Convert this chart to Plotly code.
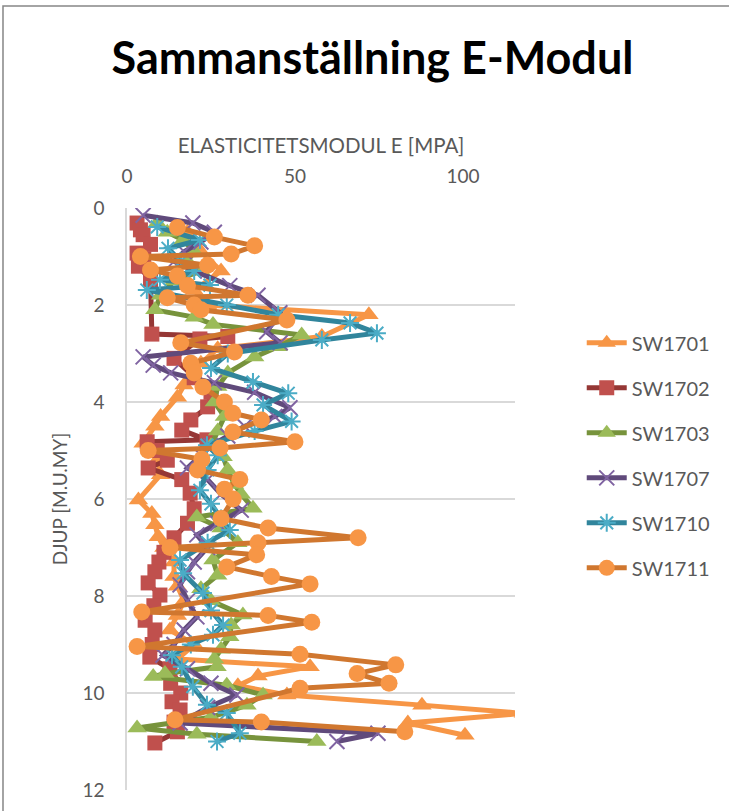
import plotly.graph_objects as go

# ---- data (depth in m, E-modul in MPa) ----
sw1701_d = [0.5, 0.9, 1.3, 1.7, 2.0, 2.2, 2.65, 2.9, 3.2, 3.65, 3.9, 4.3, 4.5, 4.85, 5.2, 5.5, 6.02, 6.3, 6.53, 6.78, 7.0, 7.3, 7.6, 7.8, 8.1, 8.4, 8.7, 9.0, 9.3, 9.46, 9.65, 9.85, 10.04, 10.25, 10.42, 10.62, 10.87]
sw1701_e = [18, 22, 28, 20, 24, 72, 58, 27, 22, 17, 15, 10, 8.3, 4.8, 9, 10, 3.4, 7.4, 8.3, 9.3, 11, 14, 14, 15, 17, 15, 12.8, 20, 15, 54.5, 39, 33, 47.6, 87.8, 118, 83.6, 100.6]

sw1702_d = [0.31, 0.45, 0.55, 0.75, 0.93, 1.05, 1.2, 1.48, 2.6, 2.65, 2.7, 3.1, 3.5, 3.8, 4.1, 4.37, 4.58, 4.78, 4.82, 5.0, 5.2, 5.36, 5.6, 5.88, 6.2, 6.5, 6.8, 7.1, 7.3, 7.5, 7.73, 7.98, 8.2, 8.5, 8.7, 9.0, 9.26, 9.5, 9.8, 10.0, 10.18, 10.35, 10.6, 10.8, 11.03]
sw1702_e = [3, 4, 4.8, 7, 3, 5, 3.4, 7, 7.4, 30, 21.7, 14, 20, 25, 24, 19, 16.3, 23.8, 6, 9, 12, 6.3, 16.3, 18.8, 20, 18, 14, 11, 9.5, 8.3, 6.3, 9.8, 8, 5.4, 8.3, 7.5, 6.8, 12.8, 13, 16, 13.4, 15.8, 14, 15, 8.3]

sw1703_d = [0.31, 0.5, 0.66, 0.9, 1.1, 1.3, 1.5, 1.8, 2.1, 2.25, 2.4, 2.62, 2.86, 3.07, 3.4, 3.68, 4.0, 4.3, 4.6, 4.9, 5.13, 5.4, 5.7, 5.9, 6.19, 6.37, 6.6, 6.9, 7.26, 7.57, 7.85, 8.1, 8.39, 8.6, 8.84, 9.1, 9.3, 9.46, 9.6, 9.66, 9.84, 10.04, 10.25, 10.5, 10.72, 10.85, 11.0]
sw1703_e = [9, 12, 16.7, 20, 18, 22, 14, 10, 8.3, 20, 25.6, 52, 45, 38, 30, 27, 26, 29, 27, 25, 28.6, 30, 32, 34, 37.5, 20.8, 28, 33, 25.6, 27, 22, 25, 34.5, 31, 30.6, 28, 26, 26.8, 11.3, 7.8, 29.7, 40.5, 35.7, 25, 3, 20.8, 56.5]

sw1707_d = [0.15, 0.31, 0.5, 0.7, 0.9, 1.1, 1.3, 1.6, 1.8, 2.16, 2.55, 2.78, 3.07, 3.24, 3.4, 3.6, 3.8, 4.12, 4.3, 4.5, 4.7, 4.9, 5.1, 5.36, 5.6, 5.9, 6.23, 6.5, 6.74, 7.0, 7.3, 7.5, 7.77, 8.1, 8.43, 8.7, 9.0, 9.22, 9.5, 9.8, 10.04, 10.3, 10.62, 10.83, 11.0]
sw1707_e = [4.8, 19.6, 26, 22, 17, 14, 20, 30.6, 39, 45.5, 41.6, 45.6, 4.8, 7.8, 13, 26, 38, 48.5, 44, 35, 30, 25, 22, 18, 24, 28, 34, 27, 20.8, 24, 20, 18, 15.8, 18, 20.8, 17, 14, 10.7, 18, 25, 32.7, 24, 15.8, 74.7, 62.5]

sw1710_d = [0.39, 0.66, 0.83, 1.1, 1.3, 1.48, 1.59, 1.69, 2.0, 2.2, 2.37, 2.58, 2.72, 3.0, 3.3, 3.59, 3.82, 4.06, 4.4, 4.6, 4.89, 5.1, 5.4, 5.82, 6.1, 6.4, 6.64, 6.9, 7.26, 7.53, 7.94, 8.3, 8.6, 8.8, 9.0, 9.22, 9.46, 9.87, 10.24, 10.41, 10.83, 11.0]
sw1710_e = [9, 21.7, 12.2, 16, 20, 9.8, 24.7, 5.9, 29.7, 45, 66.4, 74.4, 58, 30, 25, 37.5, 48, 40.5, 49, 38, 23.8, 27, 24, 21.7, 25, 28, 30.6, 24, 15.8, 16.7, 22.6, 25, 28.6, 25.6, 19, 13.4, 16.3, 19.6, 23.8, 29.7, 33.6, 26.8]

sw1711_d = [0.4, 0.6, 0.78, 0.95, 1.0, 1.18, 1.28, 1.4, 1.6, 1.8, 1.85, 2.0, 2.1, 2.31, 2.78, 2.97, 3.2, 3.4, 3.69, 4.0, 4.23, 4.37, 4.62, 4.82, 4.95, 5.0, 5.18, 5.4, 5.6, 5.8, 6.0, 6.4, 6.6, 6.8, 6.9, 7.0, 7.15, 7.4, 7.6, 7.75, 8.33, 8.4, 8.54, 9.04, 9.2, 9.42, 9.6, 9.8, 9.9, 10.55, 10.6, 10.8]
sw1711_e = [15, 26, 38, 31, 4, 24, 7, 15, 18, 36, 12, 20, 22, 47.6, 16, 32, 19, 20, 22.6, 29, 31.5, 40, 31.5, 50, 27.7, 6.3, 22.3, 21, 33.6, 29, 31.6, 28, 42, 68.8, 39, 12.8, 38.6, 29.7, 43, 54.5, 4.4, 42, 55, 3, 51.5, 80, 68.5, 78, 51.5, 14.3, 40, 82.7]

x_ticks = [0, 50, 100]
y_ticks = [0, 2, 4, 6, 8, 10, 12]

series = [
    ("SW1701", sw1701_e, sw1701_d, "#F79646", "#F79646", "triangle-up", 17, 0),
    ("SW1702", sw1702_e, sw1702_d, "#953735", "#C0504D", "square", 15, 0),
    ("SW1703", sw1703_e, sw1703_d, "#77933C", "#9BBB59", "triangle-up", 17, 0),
    ("SW1707", sw1707_e, sw1707_d, "#604A7B", "#8064A2", "x-thin-open", 15, 2),
    ("SW1710", sw1710_e, sw1710_d, "#31859C", "#4BACC6", "asterisk-open", 15, 2),
    ("SW1711", sw1711_e, sw1711_d, "#D0772F", "#F79646", "circle", 17, 0),
]

FONT = "Lato, 'Open Sans', sans-serif"
fig = go.Figure()
for i, (name, e, d, lc, mc, sym, sz, mlw) in enumerate(series):
    marker = dict(color=mc, symbol=sym, size=sz)
    if mlw:
        marker["line"] = dict(color=mc, width=mlw)
    else:
        marker["line"] = dict(width=0)
    fig.add_trace(go.Scatter(
        x=e, y=d, name=name, mode="lines+markers",
        line=dict(color=lc, width=5),
        marker=marker, legendgroup=f"g{i}", cliponaxis=True,
    ))

fig.update_layout(
    width=729, height=811,
    margin=dict(l=127, r=214, t=208, b=21, autoexpand=False),
    paper_bgcolor="white", plot_bgcolor="white",
    font=dict(family=FONT, color="#595959", size=19),
    title=dict(text="<b>Sammanställning E-Modul</b>", x=0.511, xanchor="center",
               y=0.928, yanchor="middle",
               font=dict(family=FONT, size=45, color="black")),
    showlegend=True,
    legend=dict(x=1.172, y=0.575, xanchor="left", yanchor="middle",
                font=dict(size=20, color="#595959", family=FONT),
                tracegroupgap=16, itemwidth=40, bgcolor="rgba(0,0,0,0)"),
    xaxis=dict(side="top", range=[0, 115.5], tickvals=x_ticks, showgrid=False,
               zeroline=False, showline=False, ticks="", automargin=False,
               ticklabelstandoff=20,
               title=dict(text="ELASTICITETSMODUL E [MPA]", standoff=5,
                          font=dict(size=20.5, color="#595959")),
               tickfont=dict(size=19, color="#595959")),
    yaxis=dict(range=[12, 0], tickvals=y_ticks, showgrid=True, gridcolor="#D9D9D9",
               gridwidth=1.5, zeroline=False, showline=True, linecolor="#D9D9D9",
               linewidth=1.5, ticks="", ticklen=0, automargin=False,
               ticklabelstandoff=17,
               title=dict(text="DJUP [M.U.MY]", standoff=10,
                          font=dict(size=19, color="#595959")),
               tickfont=dict(size=19, color="#595959")),
    shapes=[dict(type="rect", xref="paper", yref="paper",
                 x0=-0.3196, x1=1.7, y0=-0.2, y1=1.347,
                 line=dict(color="#868686", width=1.5), fillcolor="rgba(0,0,0,0)",
                 layer="below")],
)

fig.write_html("out.html", post_script="document.body.style.margin='0';",
               config={"displayModeBar": False})
